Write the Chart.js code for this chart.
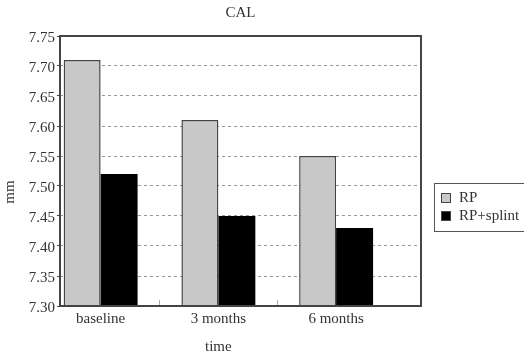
<!DOCTYPE html>
<html>
<head>
<meta charset="utf-8">
<script src="https://cdn.jsdelivr.net/npm/chart.js@4"></script>
<style>
  html, body { margin: 0; padding: 0; background: #fff; }
  #wrap { width: 524px; height: 356px; }
</style>
</head>
<body>
<div id="wrap"><canvas id="c" width="524" height="356"></canvas></div>
<script>
// CAL measurements (mm) per visit
const categories = ['baseline', '3 months', '6 months'];
const rpValues = [7.71, 7.61, 7.55];
const rpSplintValues = [7.52, 7.45, 7.43];
const seriesNames = ['RP', 'RP+splint'];
const seriesColors = ['#c8c8c8', '#000000'];
const yMin = 7.30, yMax = 7.75, yStep = 0.05;

const SERIF = "'Liberation Serif', 'DejaVu Serif', 'Times New Roman', serif";
const TEXT = '#333';

const toPoints = vals => vals.map((v, i) => ({ x: i, y: v }));

// frame, category separators, axis titles and boxed legend
const decorations = {
  id: 'decorations',
  afterDatasetsDraw(chart) {
    const { ctx, chartArea: a, scales: { x } } = chart;
    ctx.save();
    // short separator ticks between categories
    ctx.strokeStyle = '#aaa';
    ctx.lineWidth = 1;
    for (let i = 0; i < categories.length - 1; i++) {
      const px = Math.round(x.getPixelForValue(i + 0.5)) + 0.5;
      ctx.beginPath();
      ctx.moveTo(px, a.bottom);
      ctx.lineTo(px, a.bottom - 6);
      ctx.stroke();
    }
    // plot frame
    ctx.strokeStyle = '#444';
    ctx.lineWidth = 2;
    ctx.strokeRect(a.left, a.top, a.right - a.left, a.bottom - a.top);
    ctx.restore();
  },
  afterDraw(chart) {
    const { ctx, chartArea: a, scales: { x } } = chart;
    ctx.save();
    ctx.fillStyle = TEXT;
    ctx.font = `15px ${SERIF}`;
    ctx.textAlign = 'center';
    ctx.textBaseline = 'middle';
    // x axis title
    ctx.fillText('time', x.getPixelForValue(1), a.bottom + 41);
    // y axis title
    ctx.save();
    ctx.translate(10, 192);
    ctx.rotate(-Math.PI / 2);
    ctx.fillText('mm', 0, 0);
    ctx.restore();

    // legend
    const lx = 434, ly = 183, lh = 48;
    ctx.strokeStyle = '#555';
    ctx.lineWidth = 1;
    ctx.strokeRect(lx + 0.5, ly + 0.5, 120, lh);
    ctx.textAlign = 'left';
    chart.data.datasets.forEach((ds, i) => {
      const cy = ly + 15 + i * 18;
      ctx.fillStyle = ds.backgroundColor;
      ctx.fillRect(lx + 7, cy - 5, 10, 10);
      ctx.strokeStyle = '#444';
      ctx.strokeRect(lx + 7.5, cy - 4.5, 9, 9);
      ctx.fillStyle = TEXT;
      ctx.fillText(ds.label, lx + 25, cy);
    });
    ctx.restore();
  }
};

new Chart(document.getElementById('c'), {
  type: 'bar',
  data: {
    datasets: [
      {
        label: seriesNames[0],
        data: toPoints(rpValues),
        backgroundColor: seriesColors[0],
        borderColor: '#444',
        borderWidth: 1.5
      },
      {
        label: seriesNames[1],
        data: toPoints(rpSplintValues),
        backgroundColor: seriesColors[1],
        borderColor: '#000',
        borderWidth: 0
      }
    ]
  },
  options: {
    responsive: false,
    animation: false,
    devicePixelRatio: 1,
    layout: { padding: { left: 0, right: 103, top: 0, bottom: 0 } },
    datasets: { bar: { categoryPercentage: 0.628, barPercentage: 1.0 } },
    plugins: {
      legend: { display: false },
      tooltip: { enabled: false },
      title: {
        display: true,
        text: 'CAL',
        fullSize: false,
        color: TEXT,
        font: { family: SERIF, size: 15, weight: 'normal' },
        padding: { top: 4, bottom: 14 }
      }
    },
    scales: {
      x: {
        type: 'linear',
        offset: false,
        bounds: 'data',
        min: -0.345,
        max: 2.721,
        afterBuildTicks: s => { s.ticks = categories.map((_, i) => ({ value: i })); },
        afterFit: s => { s.height = 50; },
        grid: { display: false, drawTicks: false, offset: false },
        border: { display: false },
        ticks: {
          autoSkip: false,
          maxRotation: 0,
          padding: 4,
          color: TEXT,
          font: { family: SERIF, size: 15 },
          callback: v => categories[v] ?? ''
        }
      },
      y: {
        min: yMin,
        max: yMax,
        afterFit: s => { s.width = 60; },
        grid: {
          color: '#999',
          lineWidth: 1,
          drawTicks: true,
          tickLength: 3,
          tickColor: '#444',
          tickWidth: 1
        },
        border: { display: false, dash: [3, 3] },
        ticks: {
          stepSize: yStep,
          padding: 2,
          labelOffset: 2,
          color: TEXT,
          font: { family: SERIF, size: 15 },
          callback: v => Number(v).toFixed(2)
        }
      }
    }
  },
  plugins: [decorations]
});
</script>
</body>
</html>
